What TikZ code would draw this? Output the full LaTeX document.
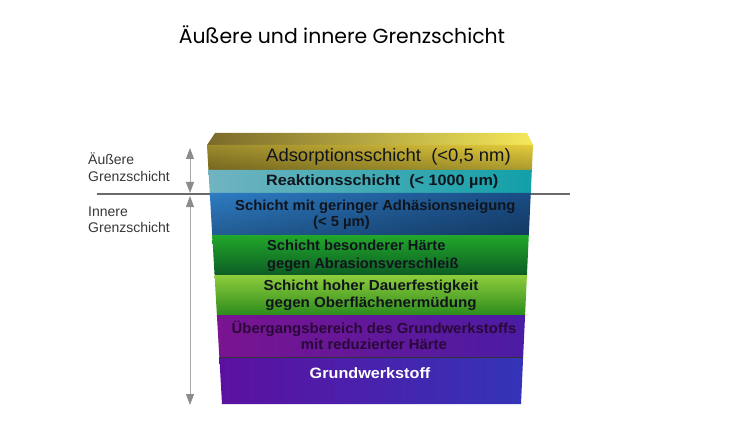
\documentclass[tikz,border=0pt]{standalone}
\usepackage{fontspec}
\usepackage{graphicx}
\setmainfont{Liberation Sans}
\newfontfamily\titlefont{Poppins}
\usetikzlibrary{arrows.meta,fadings}
\definecolor{axisgray}{HTML}{A8A8A8}
\definecolor{headgray}{HTML}{8C8C8C}
\definecolor{linegray}{HTML}{6A6A6A}
\definecolor{labelgray}{HTML}{383838}
\definecolor{txtdark}{HTML}{10141C}
\definecolor{txtpurple}{HTML}{2A0838}
\definecolor{adsL}{HTML}{9C8A2C}
\definecolor{adsR}{HTML}{E4CC3C}
\definecolor{topL}{HTML}{7A6A2A}
\definecolor{topR}{HTML}{F4E85A}
\definecolor{reaL}{HTML}{70B4C0}
\definecolor{reaR}{HTML}{12A0A8}
\definecolor{bluL}{HTML}{2E7CC4}
\definecolor{bluR}{HTML}{1A4C84}
\definecolor{dgT}{HTML}{22A82A}
\definecolor{dgB}{HTML}{0C5C24}
\definecolor{lgT}{HTML}{8ECC3C}
\definecolor{lgB}{HTML}{2C8C1C}
\definecolor{puL}{HTML}{7A1490}
\definecolor{puR}{HTML}{4A1CA4}
\definecolor{grL}{HTML}{5C10A0}
\definecolor{grR}{HTML}{3434B8}
\newcommand\stretchtext[3]{\scalebox{#1}[1]{\begin{tabular}{@{}#2@{}}#3\end{tabular}}}
\tikzset{
  dimarrow/.style={draw=axisgray, line width=0.9pt,
    {Triangle[length=11pt,width=8pt,fill=headgray,color=headgray]}-{Triangle[length=11pt,width=8pt,fill=headgray,color=headgray]}},
  sidelabel/.style={text=labelgray, font=\fontsize{14}{16.5}\selectfont, align=left, anchor=west, inner sep=0pt},
  layertext/.style={text=txtdark, inner sep=0pt},
  shadeover/.style={fill=black, path fading=north, fill opacity=0.25},
}
\begin{document}
\begin{tikzpicture}[x=1pt,y=-1pt]
\useasboundingbox[fill=white] (0,0) rectangle (750,425);
% title
\node[font=\titlefont\fontsize{20.4}{24}\selectfont, text=black] (title) at (342,35) {Äußere und innere Grenzschicht};
% separator line
\coordinate (sepL) at (97,194);
\coordinate (sepR) at (570,194);
\draw[linegray, line width=1.2pt] (sepL) -- (sepR);
% top bevel
\shade[left color=topL, right color=topR] (207,145) -- (215,133) -- (527,133) -- (533,145) -- cycle;
% adsorption
\shade[left color=adsL, right color=adsR] (207,145) -- (533,145) -- (531.84,170) -- (208.45,170) -- cycle;
\fill[shadeover] (207,145) -- (533,145) -- (531.84,170) -- (208.45,170) -- cycle;
% reaktion
\shade[left color=reaL, right color=reaR] (208.45,170) -- (531.84,170) -- (530.77,193) -- (209.79,193) -- cycle;
% blue
\shade[left color=bluL, right color=bluR] (209.79,193) -- (530.77,193) -- (528.81,235) -- (212.23,235) -- cycle;
\fill[shadeover] (209.79,193) -- (530.77,193) -- (528.81,235) -- (212.23,235) -- cycle;
% dark green
\shade[top color=dgT, bottom color=dgB] (212.23,235) -- (528.81,235) -- (526.95,275) -- (214.56,275) -- cycle;
% light green
\shade[top color=lgT, bottom color=lgB] (214.56,275) -- (526.95,275) -- (525.09,315) -- (216.88,315) -- cycle;
% purple
\shade[left color=puL, right color=puR] (216.88,315) -- (525.09,315) -- (523.14,357) -- (219.33,357) -- cycle;
% grund
\shade[left color=grL, right color=grR] (219.33,357) -- (523.14,357) -- (521,404) -- (222,404) -- cycle;
\draw[black!80, line width=0.8pt] (219.33,357) -- (523.14,357);
% arrows
\coordinate (a1) at (190,148);
\coordinate (a2) at (190,193);
\coordinate (b1) at (190,196);
\coordinate (b2) at (190,405);
\draw[dimarrow] (a1) -- (a2);
\draw[dimarrow] (b1) -- (b2);
% side labels
\node[sidelabel] (aussen) at (88,167) {Äußere\\Grenzschicht};
\node[sidelabel] (innen) at (88,220) {Innere\\Grenzschicht};
% layer texts
\node[layertext, font=\fontsize{18}{20}\selectfont, anchor=west] (ads) at (266,158) {\stretchtext{1.025}{l}{Adsorptionsschicht\ \ (<0,5 nm)}};
\node[layertext, font=\fontsize{15}{17}\selectfont\bfseries, anchor=west] (rea) at (266,182) {\stretchtext{1.08}{l}{Reaktionsschicht\ \ (< 1000 µm)}};
\node[layertext, font=\fontsize{14.5}{16}\selectfont\bfseries, anchor=west] (blu) at (235,215) {\stretchtext{1.02}{l}{Schicht mit geringer Adhäsionsneigung\\\hspace*{76.5pt}(< 5 µm)}};
\node[layertext, font=\fontsize{14.5}{18}\selectfont\bfseries, anchor=west] (dg) at (267,256) {\stretchtext{1.01}{l}{Schicht besonderer Härte\\gegen Abrasionsverschleiß}};
\node[layertext, font=\fontsize{14.5}{17}\selectfont\bfseries] (lg) at (371,296) {\stretchtext{1.045}{c}{Schicht hoher Dauerfestigkeit\\gegen Oberflächenermüdung}};
\node[layertext, text=txtpurple, font=\fontsize{14.5}{16}\selectfont\bfseries] (pu) at (374,338) {\stretchtext{1.03}{c}{Übergangsbereich des Grundwerkstoffs\\mit reduzierter Härte}};
\node[layertext, text=white, font=\fontsize{15}{17}\selectfont\bfseries] (gr) at (370,375) {\stretchtext{1.08}{c}{Grundwerkstoff}};
\end{tikzpicture}
\end{document}
